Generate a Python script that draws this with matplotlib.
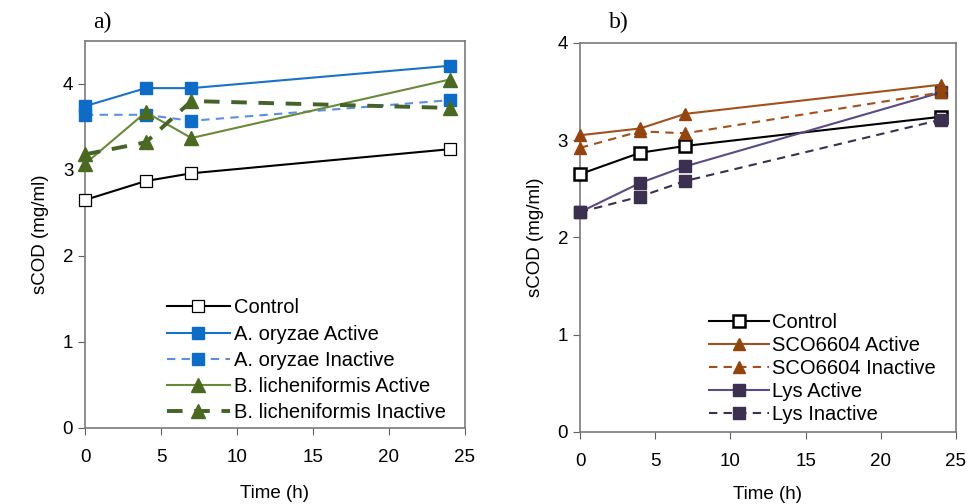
import numpy as np
import matplotlib
matplotlib.use("Agg")
import matplotlib.pyplot as plt

plt.rcParams['font.family'] = ['Liberation Sans', 'DejaVu Sans']

time_h = [0, 4, 7, 24]

# panel a)
a_control = [2.65, 2.87, 2.96, 3.24]
a_oryzae_active = [3.74, 3.95, 3.95, 4.21]
a_oryzae_inactive = [3.64, 3.64, 3.57, 3.81]
a_lich_active = [3.07, 3.67, 3.37, 4.05]
a_lich_inactive = [3.18, 3.32, 3.80, 3.72]

# panel b)
b_control = [2.65, 2.87, 2.94, 3.24]
b_sco_active = [3.05, 3.12, 3.27, 3.57]
b_sco_inactive = [2.92, 3.09, 3.07, 3.49]
b_lys_active = [2.26, 2.56, 2.73, 3.49]
b_lys_inactive = [2.26, 2.42, 2.58, 3.21]

xticks = [0, 5, 10, 15, 20, 25]

fig = plt.figure(figsize=(9.74, 5.04), dpi=100)
ax1 = fig.add_axes([0.0873, 0.151, 0.39, 0.768])
ax2 = fig.add_axes([0.5955, 0.143, 0.386, 0.772])

# panel a
ax1.plot(time_h, a_control, color='black', lw=1.5, marker='s', ms=8.5,
         mfc='white', mec='black', mew=0.9, label='Control', zorder=3, clip_on=False)
ax1.plot(time_h, a_oryzae_active, color='#1a72c8', lw=1.5, marker='s', ms=9,
         mfc='#0f6cc6', mec='#0f6cc6', label='A. oryzae Active', zorder=3, clip_on=False)
ax1.plot(time_h, a_oryzae_inactive, color='#5b8fe0', lw=1.5, ls=(0, (4, 3)), marker='s', ms=9,
         mfc='#0f6cc6', mec='#0f6cc6', label='A. oryzae Inactive', zorder=3, clip_on=False)
ax1.plot(time_h, a_lich_active, color='#6a8a3a', lw=1.5, marker='^', ms=10,
         mfc='#4a6a22', mec='#4a6a22', label='B. licheniformis Active', zorder=4, clip_on=False)
ax1.plot(time_h, a_lich_inactive, color='#44622a', lw=2.8, ls=(0, (4, 3)), marker='^', ms=10,
         mfc='#4a6a22', mec='#4a6a22', label='B. licheniformis Inactive', zorder=4, clip_on=False)
ax1.set_ylim(0, 4.5)
ax1.set_yticks([0, 1, 2, 3, 4])
ax1.legend(loc='lower left', bbox_to_anchor=(0.19, -0.012), frameon=False, fontsize=14.5,
           borderpad=0, labelspacing=0.36, handlelength=3.1, handletextpad=0.2)

# panel b
ax2.plot(time_h, b_control, color='black', lw=1.5, marker='s', ms=8.5,
         mfc='white', mec='black', mew=1.8, label='Control', zorder=3, clip_on=False)
ax2.plot(time_h, b_sco_active, color='#a4501c', lw=1.5, marker='^', ms=9,
         mfc='#94440f', mec='#94440f', label='SCO6604 Active', zorder=4, clip_on=False)
ax2.plot(time_h, b_sco_inactive, color='#a4501c', lw=1.5, ls=(0, (4, 3)), marker='^', ms=9,
         mfc='#94440f', mec='#94440f', label='SCO6604 Inactive', zorder=4, clip_on=False)
ax2.plot(time_h, b_lys_active, color='#5b4a86', lw=1.5, marker='s', ms=8.5,
         mfc='#3c3050', mec='#3c3050', label='Lys Active', zorder=3, clip_on=False)
ax2.plot(time_h, b_lys_inactive, color='#3c3050', lw=1.5, ls=(0, (4, 3)), marker='s', ms=8.5,
         mfc='#3c3050', mec='#3c3050', label='Lys Inactive', zorder=3, clip_on=False)
ax2.set_ylim(0, 4)
ax2.set_yticks([0, 1, 2, 3, 4])
ax2.legend(loc='lower left', bbox_to_anchor=(0.315, -0.005), frameon=False, fontsize=14.5,
           borderpad=0, labelspacing=0.19, handlelength=3.0, handletextpad=0.15)

for ax in (ax1, ax2):
    ax.set_xlim(0, 25)
    ax.set_xticks(xticks)
    ax.tick_params(labelsize=13.5, direction='out', length=5, color='#606060')
    ax.tick_params(axis='x', pad=10)
    ax.set_ylabel('sCOD (mg/ml)', fontsize=13.5, labelpad=10)
    for s in ax.spines.values():
        s.set_color('#7a7a7a')
        s.set_linewidth(1.2)

ax1.set_xlabel('Time (h)', fontsize=13.5, labelpad=14)
ax2.set_xlabel('Time (h)', fontsize=13.5, labelpad=12)

fig.text(0.096, 0.955, 'a)', fontsize=17, family='Liberation Serif', va='center')
fig.text(0.625, 0.955, 'b)', fontsize=17, family='Liberation Serif', va='center')

fig.savefig('out.png', dpi=100)
